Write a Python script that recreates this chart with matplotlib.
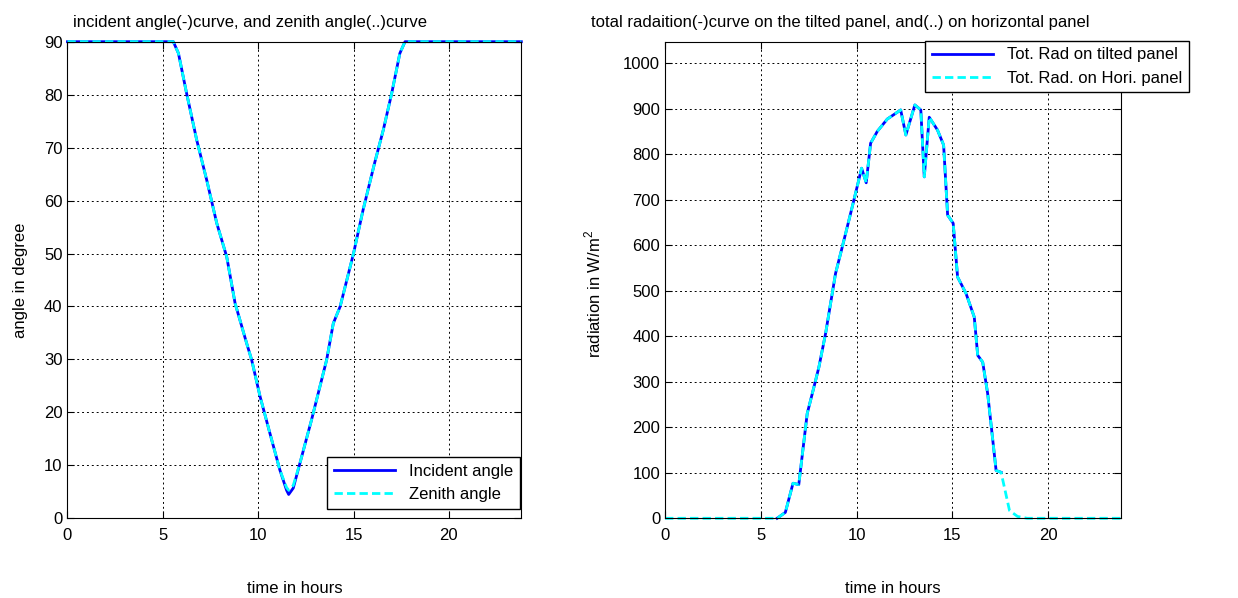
import numpy as np
import matplotlib
matplotlib.use("Agg")
import matplotlib.pyplot as plt

plt.rcParams['font.family'] = ['Liberation Sans', 'DejaVu Sans']
plt.rcParams['font.size'] = 12
plt.rcParams['mathtext.fontset'] = 'custom'
plt.rcParams['mathtext.rm'] = 'Liberation Sans'

# angle data (hours, degrees)
time_angle = [0, 5.55, 5.82, 6.25, 6.78, 7.3, 7.83, 8.35, 8.79, 9.4, 9.66, 10.1,
              10.62, 11.14, 11.49, 11.6, 11.84, 12.19, 12.8, 13.59, 13.94, 14.3,
              15.0, 15.5, 16.1, 16.56, 17.0, 17.43, 17.7, 23.8]
incident = [90, 90, 87.8, 80.2, 71.4, 63.9, 55.7, 49.4, 40.6, 33, 29.9, 23,
            16, 9.1, 5.3, 4.5, 5.7, 10.4, 18.6, 29.9, 36.8, 40,
            50, 58.2, 67, 73.3, 80.2, 87.8, 90, 90]
zenith = [90, 90, 87.8, 80.2, 71.4, 63.9, 55.7, 49.4, 40.6, 33, 29.9, 23,
          16, 9.1, 5.8, 5.3, 6.2, 10.4, 18.6, 29.9, 36.8, 40,
          50, 58.2, 67, 73.3, 80.2, 87.8, 90, 90]

# radiation data (hours, W/m^2)
time_rad = [0, 5.85, 6.28, 6.68, 6.98, 7.42, 7.77, 8.03, 8.38, 8.9, 9.25, 9.77,
            10.03, 10.26, 10.5, 10.73, 11.08, 11.6, 12.3, 12.57, 13.04, 13.35,
            13.53, 13.79, 14.22, 14.54, 14.75, 15.04, 15.27, 15.71, 16.14, 16.32,
            16.58, 16.84, 17.28, 17.54, 17.98, 18.4, 18.9, 23.8]
rad_hori = [0, 0, 13, 77, 74, 230, 288, 332, 406, 538, 596, 684,
            729, 769, 737, 824, 850, 877, 897, 842, 908, 897,
            750, 881, 853, 820, 666, 648, 530, 494, 442, 358,
            343, 274, 105, 101, 17, 4, 0, 0]
rad_tilt = [np.nan, 0, 13, 77, 74, 230, 288, 332, 406, 538, 596, 684,
            729, 769, 737, 824, 850, 877, 897, 842, 908, 897,
            750, 881, 853, 820, 666, 648, 530, 494, 442, 358,
            343, 274, 105, 101, np.nan, np.nan, np.nan, np.nan]

fig = plt.figure(figsize=(12.38, 5.98), dpi=100)
ax1 = fig.add_axes([0.0545, 0.1333, 0.3666, 0.797])
ax2 = fig.add_axes([0.5372, 0.1333, 0.3683, 0.797])

cyan_dash = (0, (3, 1.5))

ax1.plot(time_angle, incident, color='#0000FF', lw=2, label='Incident angle', clip_on=False)
ax1.plot(time_angle, zenith, color='#00FFFF', lw=2, linestyle=cyan_dash, label='Zenith angle',
         clip_on=False)
ax1.set_xlim(0, 23.8)
ax1.set_ylim(0, 90)
ax1.set_xticks([0, 5, 10, 15, 20])
ax1.set_yticks(np.arange(0, 91, 10))
ax1.set_xlabel('time in hours')
ax1.set_ylabel('angle in degree')
ax1.text(0.402, 1.025, 'incident angle(-)curve, and zenith angle(..)curve',
         transform=ax1.transAxes, ha='center', va='bottom')
ax1.legend(loc='lower left', bbox_to_anchor=(0.572, 0.0195), borderaxespad=0,
           fancybox=False, edgecolor='black', framealpha=1, handlelength=3.7,
           labelspacing=0.5)

ax2.plot(time_rad, rad_tilt, color='#0000FF', lw=2, label='Tot. Rad on tilted panel', clip_on=False)
ax2.plot(time_rad, rad_hori, color='#00FFFF', lw=2, linestyle=cyan_dash,
         label='Tot. Rad. on Hori. panel', clip_on=False)
ax2.set_xlim(0, 23.8)
ax2.set_ylim(0, 1047)
ax2.set_xticks([0, 5, 10, 15, 20])
ax2.set_yticks(np.arange(0, 1001, 100))
ax2.set_xlabel('time in hours')
ax2.set_ylabel('radiation in W/m$^2$')
ax2.text(0.384, 1.025, 'total radaition(-)curve on the tilted panel, and(..) on horizontal panel',
         transform=ax2.transAxes, ha='center', va='bottom')
ax2.legend(loc='upper left', bbox_to_anchor=(0.570, 1.002), borderaxespad=0,
           fancybox=False, edgecolor='black', framealpha=1, handlelength=3.7,
           labelspacing=0.5)

# label positions in axes fractions
ax1.xaxis.set_label_coords(0.5, -0.132)
ax1.yaxis.set_label_coords(-0.088, 0.5)
ax2.xaxis.set_label_coords(0.5, -0.132)
ax2.yaxis.set_label_coords(-0.135, 0.47)

for ax in (ax1, ax2):
    ax.grid(True, color='black', linestyle=(0, (2, 3)), linewidth=0.7)
    ax.tick_params(direction='in', top=True, right=True, length=5, width=0.8)
    ax.tick_params(axis='x', pad=7)
    for s in ax.spines.values():
        s.set_linewidth(0.8)

fig.savefig('out.png', dpi=100)
